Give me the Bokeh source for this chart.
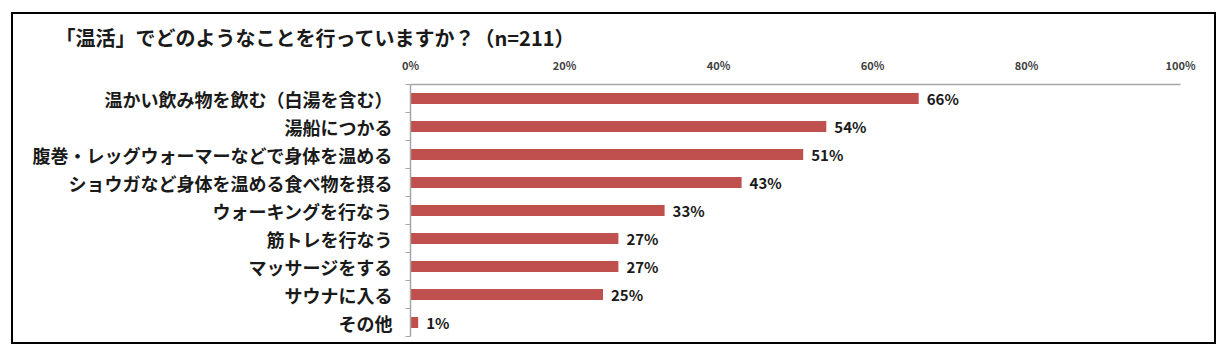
from bokeh.plotting import figure
from bokeh.layouts import column
from bokeh.models import (Range1d, LinearAxis, FixedTicker, ColumnDataSource)
from bokeh.core.properties import value
from bokeh.embed import file_html
from bokeh.resources import INLINE

title_text = "「温活」でどのようなことを行っていますか？（n=211）"
categories = [
    "温かい飲み物を飲む（白湯を含む）",
    "湯船につかる",
    "腹巻・レッグウォーマーなどで身体を温める",
    "ショウガなど身体を温める食べ物を摂る",
    "ウォーキングを行なう",
    "筋トレを行なう",
    "マッサージをする",
    "サウナに入る",
    "その他",
]
values = [66, 54, 51, 43, 33, 27, 27, 25, 1]
x_ticks = [0, 20, 40, 60, 80, 100]
x_tick_labels = ["0%", "20%", "40%", "60%", "80%", "100%"]

FONT = "Noto Sans CJK JP"
GREY = "#A6A6A6"
BAR = "#C0504D"

# figure sits inside a 2px black frame whose outer edge is at (11,12)-(1216,344)
W, H = 1201, 328
FL, FR, FT, FB = 397, 34, 70, 6   # frame borders inside the figure

n = len(categories)
ypos = [n - i - 0.5 for i in range(n)]

src = ColumnDataSource(dict(
    y=ypos,
    val=values,
    label=[f"{v}%" for v in values],
))

p = figure(width=W, height=H, output_backend="svg", toolbar_location=None,
           y_range=Range1d(0, n), x_range=Range1d(0, 100),
           x_axis_location="above", y_axis_location=None,
           title=title_text,
           min_border_left=FL, min_border_right=FR, min_border_top=FT, min_border_bottom=FB)
p.outline_line_color = None
p.grid.visible = False
p.background_fill_color = "white"
p.border_fill_color = "white"

p.title.align = "left"
p.title.offset = 55 - 410
p.title.text_font = FONT
p.title.text_font_size = "20px"
p.title.text_font_style = "bold"
p.title.text_color = "#1a1a1a"
p.title.standoff = 3

# top axis
xa = p.xaxis[0]
xa.ticker = FixedTicker(ticks=x_ticks)
xa.major_label_overrides = {t: l for t, l in zip(x_ticks, x_tick_labels)}
xa.major_tick_line_color = None
xa.minor_tick_line_color = None
xa.axis_line_color = GREY
xa.axis_line_width = 1.5
xa.major_label_standoff = 6
xa.major_label_text_font = FONT
xa.major_label_text_font_size = "11px"
xa.major_label_text_font_style = "bold"
xa.major_label_text_color = "#404040"

# left tick axis (category boundaries)
ta = LinearAxis(ticker=FixedTicker(ticks=list(range(n + 1))))
ta.major_label_text_font_size = "0px"
ta.major_label_text_color = None
ta.major_label_standoff = 0
ta.major_tick_in = 0
ta.major_tick_out = 5
ta.major_tick_line_color = GREY
ta.minor_tick_line_color = None
ta.axis_line_color = GREY
ta.axis_line_width = 1.5
p.add_layout(ta, "left")

# category label axis
ca = LinearAxis(ticker=FixedTicker(ticks=ypos))
ca.major_label_overrides = {y: c for y, c in zip(ypos, categories)}
ca.axis_line_color = None
ca.major_tick_line_color = None
ca.minor_tick_line_color = None
ca.major_label_standoff = 7
ca.major_label_text_font = FONT
ca.major_label_text_font_size = "18px"
ca.major_label_text_font_style = "bold"
ca.major_label_text_color = "#1a1a1a"
p.add_layout(ca, "left")

p.hbar(y="y", right="val", left=0, height=0.4, source=src,
       fill_color=BAR, line_color=None)
p.text(x="val", y="y", text="label", source=src, x_offset=8,
       text_baseline="middle", text_align="left",
       text_font=value(FONT), text_font_size="15px", text_font_style="bold",
       text_color="#1a1a1a")

layout = column(p, styles={"border": "2px solid black", "margin-left": "11px",
                           "margin-top": "12px", "background-color": "white"})

open("out.html", "w").write(file_html(layout, INLINE))
